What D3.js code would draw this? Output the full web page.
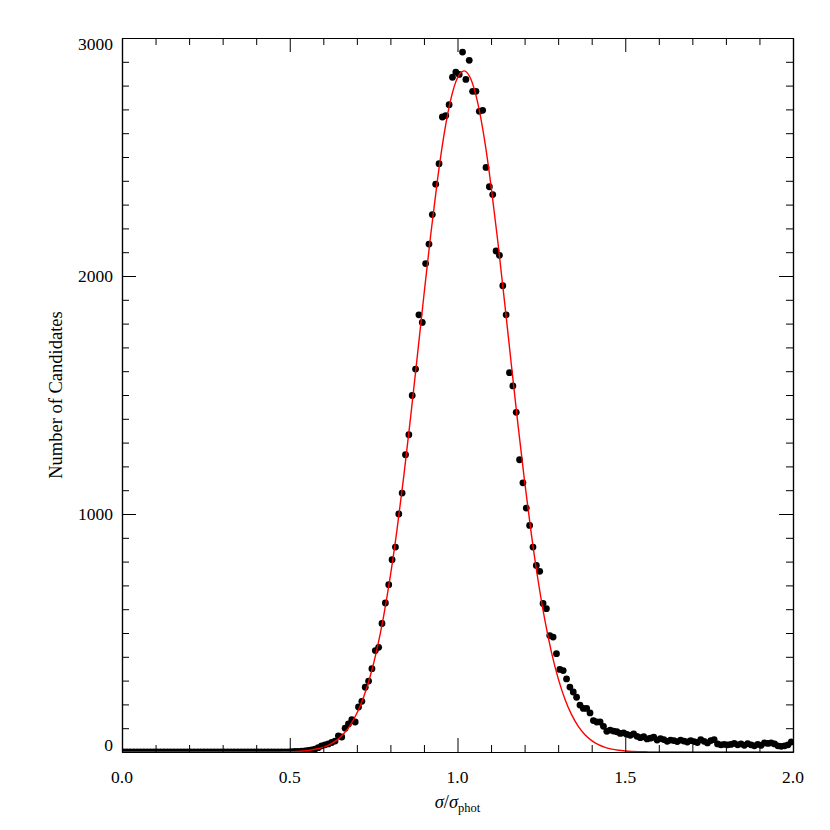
<!DOCTYPE html>
<html>
<head>
<meta charset="utf-8">
<script src="https://cdn.jsdelivr.net/npm/d3@7"></script>
<style>
  html, body { margin: 0; padding: 0; background: #fff; }
  svg { display: block; }
  text { font-family: "Liberation Serif", "DejaVu Serif", serif; fill: #000; }
</style>
</head>
<body>
<svg id="chart" width="830" height="830"></svg>
<script>
// ---- data ----
const binWidth = 0.01;   // histogram bin width in sigma/sigma_phot
const binStart = 0.0;
const counts = [
  // 0.005 .. 0.495
  0,0,0,0,0,0,0,0,0,0, 0,0,0,0,0,0,0,0,0,0,
  0,0,0,0,0,0,0,0,0,0, 0,0,0,0,0,0,0,0,0,0,
  0,0,0,0,0,0,0,0,0,0,
  // 0.505 .. 0.995
  1,2,2,4,5,7,9,12,18,26,
  30,34,40,46,68,63,100,118,136,126,
  189,213,272,298,350,426,440,540,626,703,
  808,861,1000,1088,1249,1333,1498,1609,1837,1805,
  2052,2134,2258,2386,2472,2668,2674,2720,2835,2857,
  // 1.005 .. 1.495
  2847,2941,2826,2906,2776,2776,2692,2696,2456,2375,
  2342,2105,2087,1959,1837,1594,1538,1427,1228,1131,
  1025,952,861,784,759,624,602,489,483,413,
  347,342,307,273,252,230,197,183,183,164,
  132,126,126,108,87,92,88,85,78,80,
  // 1.505 .. 1.995
  74,70,76,66,60,64,55,58,62,50,
  56,52,45,50,48,44,50,46,42,48,
  44,40,52,45,38,48,52,34,30,32,
  30,32,36,30,34,28,35,30,26,32,
  28,38,36,38,34,26,24,26,30,42
];

// Gaussian fit curve
const fitX = [0.00,0.40,0.44,0.46,0.48,0.50,0.52,0.54,0.56,0.58,0.60,0.62,0.64,0.66,0.68,0.70,
  0.72,0.74,0.76,0.78,0.80,0.82,0.84,0.86,0.88,0.90,0.92,0.94,0.96,0.98,1.00,1.02,1.04,
  1.06,1.08,1.10,1.12,1.14,1.16,1.18,1.20,1.22,1.24,1.26,1.28,1.30,1.32,1.34,1.36,1.38,
  1.40,1.42,1.44,1.46,1.48,1.50,1.52,1.54,1.56,1.58,1.60,1.64,2.00];
const fitY = [0,0,0.2,0.4,0.8,1.4,2.6,4.4,7.5,12.5,20.3,32.2,50.0,75.8,112.2,162.6,
  230.4,319.2,432.1,572.3,740.8,937.6,1160.1,1403.7,1660.4,1920.3,2171.4,2400.4,2594.6,2741.9,2833.0,2862.0,2826.7,
  2729.6,2577.1,2378.9,2146.9,1894.4,1634.4,1378.6,1136.9,916.7,722.7,556.9,419.7,309.3,222.8,156.9,108.0,72.7,
  47.9,30.8,19.4,11.9,7.2,4.2,2.4,1.4,0.8,0.4,0.2,0,0];

const xMajor = [0.0, 0.5, 1.0, 1.5, 2.0];
const xLabels = ["0.0", "0.5", "1.0", "1.5", "2.0"];
const xMinor = [0.1,0.2,0.3,0.4,0.6,0.7,0.8,0.9,1.1,1.2,1.3,1.4,1.6,1.7,1.8,1.9];
const yMajor = [0, 1000, 2000, 3000];
const yLabels = ["0", "1000", "2000", "3000"];
const yMinor = d3.range(100, 3000, 100).filter(v => v % 1000 !== 0);

// ---- layout ----
const L = 122, R = 793, T = 38, B = 752;
const svg = d3.select("#chart");
const x = d3.scaleLinear().domain([0, 2]).range([L, R]);
const y = d3.scaleLinear().domain([0, 3000]).range([B, T]);

svg.append("defs").append("clipPath").attr("id", "plotclip")
  .append("rect").attr("x", L).attr("y", T).attr("width", R - L).attr("height", B - T);

const plot = svg.append("g").attr("clip-path", "url(#plotclip)");

// dots
const pts = counts.map((c, i) => ({ x: binStart + binWidth * (i + 0.5), y: c }));
plot.selectAll("circle").data(pts).enter().append("circle")
  .attr("cx", d => x(d.x)).attr("cy", d => y(d.y)).attr("r", 3.4).attr("fill", "#000");

// fit line
const line = d3.line().x(d => x(d[0])).y(d => y(d[1])).curve(d3.curveMonotoneX);
plot.append("path").datum(fitX.map((v, i) => [v, fitY[i]]))
  .attr("d", line).attr("fill", "none").attr("stroke", "#ff0000").attr("stroke-width", 1.4);

// axes (ticks pointing inward on all four sides)
const MAJ = 14, MIN = 7;
function axisG(gen, tr) {
  const g = svg.append("g").attr("transform", tr).call(gen);
  g.selectAll("text").remove();
  g.selectAll(".domain").attr("stroke", "#000").attr("stroke-width", 1.2);
  g.selectAll(".tick line").attr("stroke", "#000").attr("stroke-width", 1);
  return g;
}
axisG(d3.axisBottom(x).tickValues(xMajor).tickSizeInner(-MAJ).tickSizeOuter(0), `translate(0,${B})`);
axisG(d3.axisBottom(x).tickValues(xMinor).tickSizeInner(-MIN).tickSizeOuter(0), `translate(0,${B})`);
axisG(d3.axisTop(x).tickValues(xMajor).tickSizeInner(-MAJ).tickSizeOuter(0), `translate(0,${T})`);
axisG(d3.axisTop(x).tickValues(xMinor).tickSizeInner(-MIN).tickSizeOuter(0), `translate(0,${T})`);
axisG(d3.axisLeft(y).tickValues(yMajor).tickSizeInner(-MAJ).tickSizeOuter(0), `translate(${L},0)`);
axisG(d3.axisLeft(y).tickValues(yMinor).tickSizeInner(-MIN).tickSizeOuter(0), `translate(${L},0)`);
axisG(d3.axisRight(y).tickValues(yMajor).tickSizeInner(-MAJ).tickSizeOuter(0), `translate(${R},0)`);
axisG(d3.axisRight(y).tickValues(yMinor).tickSizeInner(-MIN).tickSizeOuter(0), `translate(${R},0)`);

// tick labels
const FS = 17.5;
svg.append("g").selectAll("text").data(xMajor).enter().append("text")
  .attr("x", d => x(d)).attr("y", B + 31).attr("text-anchor", "middle")
  .attr("font-size", FS).text((d, i) => xLabels[i]);

const half = 6.5;
svg.append("g").selectAll("text").data(yMajor).enter().append("text")
  .attr("x", L - 9)
  .attr("y", d => Math.max(T + half, Math.min(B - half, y(d))) + FS * 0.34)
  .attr("text-anchor", "end").attr("font-size", FS).text((d, i) => yLabels[i]);

// axis titles
svg.append("text")
  .attr("transform", `translate(62,${(T + B) / 2}) rotate(-90)`)
  .attr("text-anchor", "middle").attr("font-size", 18.5).text("Number of Candidates");

const xt = svg.append("text").attr("x", (L + R) / 2).attr("y", B + 56)
  .attr("text-anchor", "middle").attr("font-size", 18.5);
xt.append("tspan").attr("font-style", "italic").text("σ");
xt.append("tspan").text("/");
xt.append("tspan").attr("font-style", "italic").text("σ");
xt.append("tspan").attr("font-size", 12.5).attr("dy", 4).text("phot");
</script>
</body>
</html>
